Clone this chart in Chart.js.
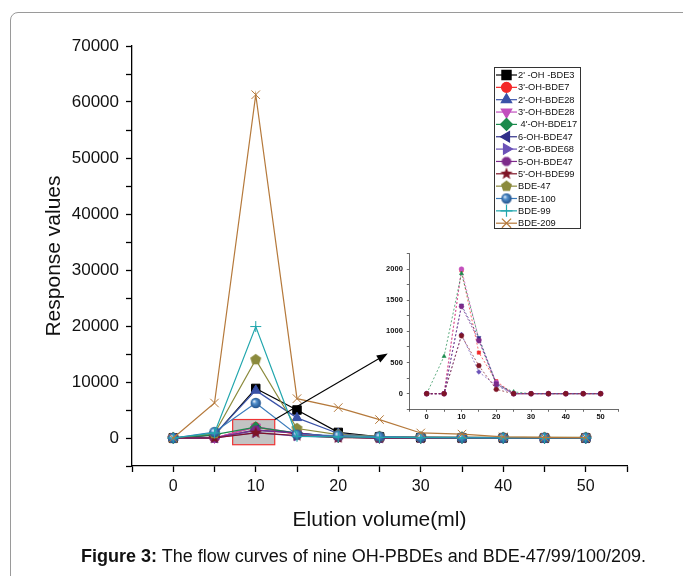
<!DOCTYPE html>
<html>
<head>
<meta charset="utf-8">
<script src="https://cdn.jsdelivr.net/npm/chart.js@4.4.1/dist/chart.umd.min.js"></script>
<style>
  body { margin: 0; background: #fff; width: 683px; height: 576px; overflow: hidden; position: relative; font-family: "Liberation Sans", Arial, sans-serif; }
  #frame { position: absolute; left: 10px; top: 12px; width: 720px; height: 620px; border: 1px solid #9a9a9a; border-radius: 8px; }
  #main { position: absolute; left: 0; top: 0; }
  #inset { position: absolute; left: 370px; top: 245px; }
  #caption { position: absolute; left: 22px; width: 683px; top: 546px; text-align: center; font-size: 18px; color: #111; white-space: nowrap; }
</style>
</head>
<body>
<div id="frame"></div>
<canvas id="main" width="683" height="576"></canvas>
<canvas id="inset" width="260" height="180"></canvas>
<div id="caption"><b>Figure 3:</b> The flow curves of nine OH-PBDEs and BDE-47/99/100/209.</div>
<script>
// Elution volume (ml)
const volumes = [0, 5, 10, 15, 20, 25, 30, 35, 40, 45, 50];

// response values per compound
const oh2_bde3 = [0, 500, 8850, 5000, 1000, 200, 50, 0, 0, 0, 0];
const oh3_bde7 = [0, 0, 1980, 660, 200, 0, 0, 0, 0, 0, 0];
const oh2_bde28 = [0, 600, 8500, 3600, 800, 150, 50, 0, 0, 0, 0];
const oh3_bde28 = [0, 0, 2000, 870, 180, 0, 0, 0, 0, 0, 0];
const oh4_bde17 = [0, 600, 1930, 880, 150, 30, 0, 0, 0, 0, 0];
const oh6_bde47 = [0, 0, 1420, 900, 170, 0, 0, 0, 0, 0, 0];
const ob2_bde68 = [0, 0, 950, 350, 130, 0, 0, 0, 0, 0, 0];
const oh5_bde47 = [0, 0, 1400, 850, 150, 0, 0, 0, 0, 0, 0];
const oh5_bde99 = [0, 0, 930, 450, 70, 0, 0, 0, 0, 0, 0];
const bde47 = [0, 800, 14000, 1700, 600, 300, 200, 150, 100, 100, 100];
const bde100 = [0, 1070, 6250, 600, 450, 250, 150, 100, 50, 50, 50];
const bde99 = [0, 900, 19900, 300, 200, 100, 50, 0, 0, 0, 0];
const bde209 = [0, 6250, 61300, 7030, 5430, 3290, 900, 700, 200, 100, 50];

const FONT = '"Liberation Sans", Arial, sans-serif';
Chart.defaults.font.family = FONT;

// custom marker images
function marker(size, draw) {
  const c = document.createElement("canvas");
  c.width = size;
  c.height = size;
  draw(c.getContext("2d"), size / 2);
  return c;
}
function starPath(g, c, outer, inner, n) {
  g.beginPath();
  for (let k = 0; k < n * 2; k++) {
    const r = k % 2 === 0 ? outer : inner;
    const a = -Math.PI / 2 + (k * Math.PI) / n;
    g.lineTo(c + r * Math.cos(a), c + r * Math.sin(a));
  }
  g.closePath();
}
const pentagon = marker(13, (g, c) => {
  g.fillStyle = "#8b8a3c";
  starPath(g, c, 5.8, 5.8 * Math.cos(Math.PI / 5), 5);
  g.fill();
});
const star = marker(14, (g, c) => {
  g.fillStyle = "#7e1426";
  starPath(g, c, 6.5, 2.7, 5);
  g.fill();
});
const octagon = marker(12, (g, c) => {
  g.fillStyle = "#7d2a8a";
  g.beginPath();
  for (let k = 0; k < 8; k++) {
    const a = Math.PI / 8 + (k * Math.PI) / 4;
    g.lineTo(c + 5 * Math.cos(a), c + 5 * Math.sin(a));
  }
  g.closePath();
  g.fill();
});
const sphere = marker(12, (g, c) => {
  const grad = g.createRadialGradient(c - 1.8, c - 1.8, 0.3, c, c, 5.4);
  grad.addColorStop(0, "#e4eefa");
  grad.addColorStop(0.35, "#5290cc");
  grad.addColorStop(1, "#1d4c86");
  g.fillStyle = grad;
  g.beginPath();
  g.arc(c, c, 5.2, 0, Math.PI * 2);
  g.fill();
});

const series = [
  { label: "2' -OH -BDE3", data: oh2_bde3, color: "#000000", style: "rect", r: 6 },
  { label: "3'-OH-BDE7", data: oh3_bde7, color: "#f42a2a", style: "circle", r: 4.5, inset: "rect" },
  { label: "2'-OH-BDE28", data: oh2_bde28, color: "#3a52a8", style: "triangle", r: 5.5 },
  { label: "3'-OH-BDE28", data: oh3_bde28, color: "#c24fbe", style: "triangle", rot: 180, r: 5.5, inset: "circle" },
  { label: " 4'-OH-BDE17", data: oh4_bde17, color: "#1b8a4c", style: "rectRot", r: 5.5, inset: "triangle" },
  { label: "6-OH-BDE47", data: oh6_bde47, color: "#30308a", style: "triangle", rot: 270, r: 5.5, inset: "triangle", insetRot: 180 },
  { label: "2'-OB-BDE68", data: ob2_bde68, color: "#6b52b8", style: "triangle", rot: 90, r: 5.5, inset: "rectRot" },
  { label: "5-OH-BDE47", data: oh5_bde47, color: "#7d2a8a", style: octagon, r: 5, inset: "circle" },
  { label: "5'-OH-BDE99", data: oh5_bde99, color: "#7e1426", style: star, r: 5, inset: "circle" },
  { label: "BDE-47", data: bde47, color: "#8b8a3c", style: pentagon, r: 5 },
  { label: "BDE-100", data: bde100, color: "#3b7bbb", style: sphere, r: 5 },
  { label: "BDE-99", data: bde99, color: "#21a6ad", style: "cross", r: 5.5 },
  { label: "BDE-209", data: bde209, color: "#b5793b", style: "crossRot", r: 6 },
];

const points = (arr) => volumes.map((v, k) => ({ x: v, y: arr[k] }));

// zoomed region marked on the main chart and arrow to the inset (data units)
const zoomBox = { x0: 7.2, x1: 12.3, y0: -1200, y1: 3300 };
const arrowTip = { x: 26, y: 15100 };

const boxPlugin = {
  id: "zoomBox",
  beforeDatasetsDraw(chart) {
    const { ctx, scales: { x, y } } = chart;
    const l = x.getPixelForValue(zoomBox.x0), r = x.getPixelForValue(zoomBox.x1);
    const t = y.getPixelForValue(zoomBox.y1), b = y.getPixelForValue(zoomBox.y0);
    ctx.save();
    ctx.fillStyle = "#c3c3c3";
    ctx.fillRect(l, t, r - l, b - t);
    ctx.strokeStyle = "#ee3434";
    ctx.lineWidth = 1.2;
    ctx.strokeRect(l, t, r - l, b - t);
    ctx.restore();
  },
  afterDatasetsDraw(chart) {
    const { ctx, scales: { x, y } } = chart;
    const x0 = x.getPixelForValue(zoomBox.x1), y0 = y.getPixelForValue(zoomBox.y1);
    const x1 = x.getPixelForValue(arrowTip.x), y1 = y.getPixelForValue(arrowTip.y);
    const a = Math.atan2(y1 - y0, x1 - x0);
    ctx.save();
    ctx.strokeStyle = "#000";
    ctx.fillStyle = "#000";
    ctx.lineWidth = 1.1;
    ctx.beginPath();
    ctx.moveTo(x0, y0);
    ctx.lineTo(x1 - 6 * Math.cos(a), y1 - 6 * Math.sin(a));
    ctx.stroke();
    ctx.beginPath();
    ctx.moveTo(x1, y1);
    ctx.lineTo(x1 - 11 * Math.cos(a) + 4 * Math.sin(a), y1 - 11 * Math.sin(a) - 4 * Math.cos(a));
    ctx.lineTo(x1 - 11 * Math.cos(a) - 4 * Math.sin(a), y1 - 11 * Math.sin(a) + 4 * Math.cos(a));
    ctx.closePath();
    ctx.fill();
    ctx.restore();
  },
};

// boxed legend like the original figure
const legendBox = { left: 494, top: 67, width: 86, height: 161, row: 12.35 };
const legendPlugin = {
  id: "boxLegend",
  afterDraw(chart) {
    const { ctx } = chart;
    const lb = legendBox;
    ctx.save();
    ctx.fillStyle = "#fff";
    ctx.fillRect(lb.left, lb.top, lb.width, lb.height);
    ctx.strokeStyle = "#333";
    ctx.lineWidth = 1;
    ctx.strokeRect(lb.left + 0.5, lb.top + 0.5, lb.width, lb.height);
    ctx.font = "9.3px " + FONT;
    ctx.textBaseline = "middle";
    series.forEach((s, i) => {
      const cy = lb.top + 8 + i * lb.row;
      ctx.strokeStyle = s.color;
      ctx.lineWidth = 1.2;
      ctx.beginPath();
      ctx.moveTo(lb.left + 2, cy);
      ctx.lineTo(lb.left + 23, cy);
      ctx.stroke();
      ctx.fillStyle = s.color;
      ctx.lineWidth = 1.2;
      Chart.helpers.drawPoint(ctx, { pointStyle: s.style, rotation: s.rot || 0, radius: s.r + 0.5, borderWidth: 1 }, lb.left + 12.5, cy);
      ctx.fillStyle = "#111";
      ctx.fillText(s.label, lb.left + 24, cy + 0.5);
    });
    ctx.restore();
  },
};

new Chart(document.getElementById("main"), {
  type: "line",
  data: {
    datasets: series.map((s, i) => ({
      label: s.label,
      data: points(s.data),
      borderColor: s.color,
      backgroundColor: s.color,
      borderWidth: 1.2,
      pointStyle: s.style,
      pointRotation: s.rot || 0,
      pointRadius: s.r,
      pointBorderWidth: 1,
      order: series.length - i,
    })),
  },
  options: {
    responsive: false,
    animation: false,
    layout: { padding: { left: 0, top: 46, right: 56, bottom: 0 } },
    plugins: { legend: { display: false }, tooltip: { enabled: false } },
    scales: {
      x: {
        type: "linear",
        min: -5,
        max: 55,
        afterFit: (s) => { s.height = 110; },
        ticks: {
          stepSize: 5,
          autoSkip: false,
          maxRotation: 0,
          color: "#111",
          padding: 5,
          font: { size: 16 },
          callback: (v) => (v % 10 === 0 && v >= 0 && v <= 50 ? String(v) : ""),
        },
        grid: { drawOnChartArea: false, tickLength: 6, tickColor: "#000", tickWidth: 1.3 },
        border: { color: "#000", width: 1.3 },
        title: { display: true, text: "Elution volume(ml)", color: "#111", font: { size: 21 }, padding: { top: 0, bottom: 43 } },
      },
      y: {
        min: -5000,
        max: 70000,
        afterFit: (s) => { s.width = 132; },
        ticks: {
          stepSize: 5000,
          autoSkip: false,
          color: "#111",
          padding: 7,
          font: { size: 17 },
          callback: (v) => (v % 10000 === 0 && v >= 0 ? String(v) : ""),
        },
        grid: { drawOnChartArea: false, tickLength: 6, tickColor: "#000", tickWidth: 1.3 },
        border: { color: "#000", width: 1.3 },
        title: { display: true, text: "Response values", color: "#111", font: { size: 21 }, padding: { top: 42, bottom: 0 } },
      },
    },
  },
  plugins: [boxPlugin, legendPlugin],
});

// inset: the OH-PBDEs at a small scale
const insetSeries = series.filter((s) => s.inset);
new Chart(document.getElementById("inset"), {
  type: "line",
  data: {
    datasets: insetSeries.map((s, i) => ({
      label: s.label,
      data: points(s.data),
      borderColor: s.color,
      backgroundColor: s.color,
      borderWidth: 0.7,
      borderDash: [2, 2],
      pointStyle: s.inset,
      pointRotation: s.insetRot || 0,
      pointRadius: 2.4,
      pointBorderWidth: 0.5,
      order: insetSeries.length - i,
    })),
  },
  options: {
    responsive: false,
    animation: false,
    layout: { padding: { left: 0, top: 8.5, right: 12, bottom: 0 } },
    plugins: { legend: { display: false }, tooltip: { enabled: false } },
    scales: {
      x: {
        type: "linear",
        min: -5,
        max: 55,
        afterFit: (s) => { s.height = 15.7; },
        ticks: {
          stepSize: 5,
          autoSkip: false,
          maxRotation: 0,
          color: "#111",
          padding: 1,
          font: { size: 7.5, weight: "bold" },
          callback: (v) => (v % 10 === 0 && v >= 0 && v <= 50 ? String(v) : ""),
        },
        grid: { drawOnChartArea: false, tickLength: 2.5, tickColor: "#444", tickWidth: 0.8 },
        border: { color: "#444", width: 0.8 },
      },
      y: {
        min: -250,
        max: 2250,
        afterFit: (s) => { s.width = 39.3; },
        ticks: {
          stepSize: 250,
          autoSkip: false,
          color: "#111",
          padding: 4,
          font: { size: 7.5, weight: "bold" },
          callback: (v) => (v % 500 === 0 && v >= 0 && v <= 2000 ? String(v) : ""),
        },
        grid: { drawOnChartArea: false, tickLength: 2.5, tickColor: "#444", tickWidth: 0.8 },
        border: { color: "#444", width: 0.8 },
      },
    },
  },
});
</script>
</body>
</html>
